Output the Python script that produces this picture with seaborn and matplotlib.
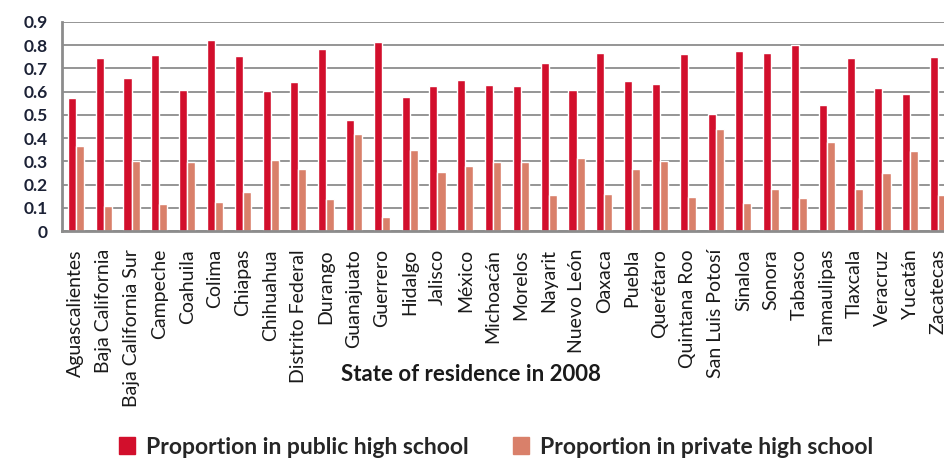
import matplotlib

matplotlib.use('Agg')

import matplotlib.pyplot as plt
import numpy as np
import pandas as pd
import seaborn as sns

states = ["Aguascalientes", "Baja California", "Baja California Sur", "Campeche",
          "Coahuila", "Colima", "Chiapas", "Chihuahua", "Distrito Federal", "Durango",
          "Guanajuato", "Guerrero", "Hidalgo", "Jalisco", "México", "Michoacán",
          "Morelos", "Nayarit", "Nuevo León", "Oaxaca", "Puebla", "Querétaro",
          "Quintana Roo", "San Luis Potosí", "Sinaloa", "Sonora", "Tabasco",
          "Tamaulipas", "Tlaxcala", "Veracruz", "Yucatán", "Zacatecas"]

public_share = [0.572, 0.746, 0.660, 0.757, 0.609, 0.821, 0.753, 0.602, 0.641, 0.785,
                0.478, 0.812, 0.579, 0.625, 0.649, 0.629, 0.626, 0.724, 0.606, 0.765,
                0.648, 0.631, 0.762, 0.505, 0.775, 0.766, 0.799, 0.543, 0.746, 0.615,
                0.590, 0.750]

private_share = [0.364, 0.109, 0.300, 0.117, 0.297, 0.127, 0.166, 0.307, 0.265, 0.137,
                 0.419, 0.059, 0.349, 0.256, 0.281, 0.295, 0.298, 0.153, 0.314, 0.160,
                 0.269, 0.300, 0.145, 0.438, 0.120, 0.183, 0.140, 0.383, 0.180, 0.248,
                 0.343, 0.153]

series_names = ["Proportion in public high school", "Proportion in private high school"]
colors = ["#D20F2C", "#D9806A"]

df = pd.DataFrame({
    "state": states * 2,
    "share": public_share + private_share,
    "series": [series_names[0]] * len(states) + [series_names[1]] * len(states),
})

sns.set_style("white")
plt.rcParams['font.family'] = ['Lato', 'DejaVu Sans']

fig = plt.figure(figsize=(9.44, 4.61), dpi=100)
# axes runs slightly past the right edge, like the cropped original
ax = fig.add_axes([62 / 944, 1 - 231 / 461, 890 / 944, 209 / 461])

sns.barplot(data=df, x="state", y="share", hue="series", palette=colors,
            width=0.58, gap=0, ax=ax, legend=False, saturation=1)

ax.set_ylim(0, 0.9)
ax.set_xlim(-0.5, len(states) - 0.5)
ax.set_yticks(np.arange(0, 0.91, 0.1))
ax.set_yticklabels(["0"] + ["{:.1f}".format(v) for v in np.arange(0.1, 0.91, 0.1)],
                   fontsize=12.5, fontweight='bold', color="#1c2236")
ax.yaxis.grid(True, color="#8c8c8c", linewidth=1.3)
ax.set_axisbelow(True)

ax.set_xticks(range(len(states)))
ax.set_xticklabels(states, rotation=90, fontsize=14, color="#1a1a1a")
ax.set_xticks(np.arange(-0.5, len(states), 1), minor=True)
ax.tick_params(axis='x', which='major', length=0, pad=13)
ax.tick_params(axis='x', which='minor', length=5, color="#8c8c8c", width=1.2, direction='out')
ax.tick_params(axis='y', length=0, pad=10)

for side in ["top", "right"]:
    ax.spines[side].set_visible(False)
ax.spines["left"].set_color("#8c8c8c")
ax.spines["left"].set_linewidth(2)
ax.spines["bottom"].set_color("#8c8c8c")
ax.spines["bottom"].set_linewidth(2)

ax.set_ylabel("")
ax.set_xlabel("")
fig.text(471 / 944, 1 - 374 / 461, "State of residence in 2008", ha='center', va='center',
         fontsize=16, fontweight='bold', color="#1a1a1a")

handles = [plt.Rectangle((0, 0), 1, 1, color=c) for c in colors]
fig.legend(handles, series_names, loc='center', bbox_to_anchor=(496 / 944, 1 - 447 / 461),
           ncol=2, frameon=False, handlelength=0.7, handleheight=0.8,
           columnspacing=1.9, handletextpad=0.5, prop={'weight': 'bold', 'size': 16.5})

fig.savefig("out.png", dpi=100)
